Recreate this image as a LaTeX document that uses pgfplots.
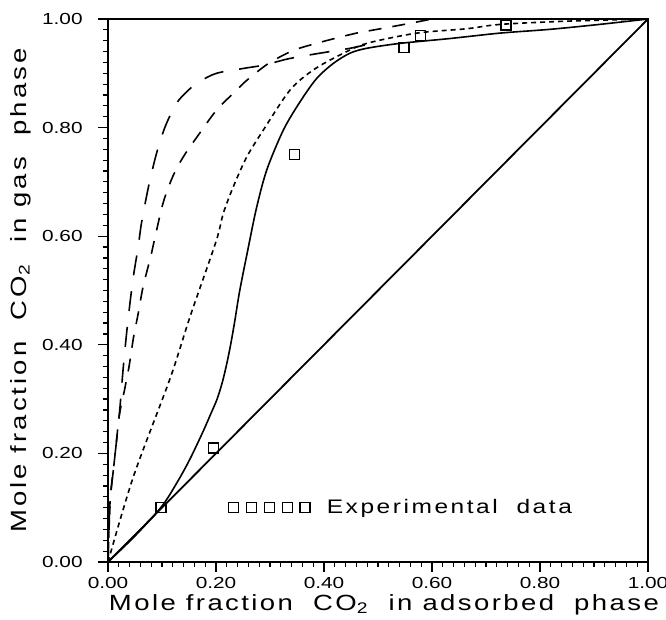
\documentclass[border=0pt]{standalone}
\usepackage{fontspec}
\setmainfont{Liberation Sans}
\newfontfamily\tickfont{Liberation Sans}[FakeStretch=1.3]
\newfontfamily\labfont{Liberation Sans}[FakeStretch=1.25,LetterSpace=11]
\newfontfamily\ylabfont{Liberation Sans}[FakeStretch=1.25,LetterSpace=14]
\newfontfamily\legfont{Liberation Sans}[FakeStretch=1.25,LetterSpace=13]
\usepackage{pgfplots}
\pgfplotsset{compat=1.18}
\begin{document}
\begin{tikzpicture}
\useasboundingbox (-54pt,-29pt) rectangle (279pt,281pt);
\begin{axis}[
  at={(0,0)}, anchor=south west,
  scale only axis, width=270pt, height=271.5pt,
  xmin=0, xmax=1, ymin=0, ymax=1,
  xtick={0,0.2,0.4,0.6,0.8,1}, ytick={0,0.2,0.4,0.6,0.8,1},
  xticklabels={0.00,0.20,0.40,0.60,0.80,1.00},
  yticklabels={0.00,0.20,0.40,0.60,0.80,1.00},
  minor tick num=9,
  tick align=outside, xtick pos=left, ytick pos=left,
  major tick length=5pt, minor tick length=2.5pt,
  tick style={black, line width=0.6pt},
  axis line style={line width=1pt},
  xticklabel style={font=\tickfont\fontsize{8}{9}\selectfont, anchor=north, inner sep=0pt, yshift=-2.5pt},
  yticklabel style={font=\tickfont\fontsize{8}{9}\selectfont, anchor=east, inner sep=0pt, xshift=-7.5pt},
  xlabel={Mole fraction~~CO\textsubscript{2}~~in~adsorbed~~phase},
  ylabel={Mole fraction~~CO\textsubscript{2}~~in~gas~~phase},
  xlabel style={font=\labfont\fontsize{11}{12}\selectfont, at={(axis description cs:0.511,0)}, anchor=north, inner sep=0pt, yshift=-16pt},
  ylabel style={font=\ylabfont\fontsize{11}{12}\selectfont, at={(axis description cs:-0.1815,0.5)}, anchor=north, inner sep=0pt},
  legend style={at={(axis cs:0.222,0.10)}, anchor=west, draw=none, fill=none, inner sep=0pt, font=\legfont\fontsize{9.8}{11}\selectfont},
  legend cell align=left,
  clip=false,
]
% diagonal
\addplot[black, line width=0.9pt, forget plot] coordinates {(0,0) (1,1)};
% solid model curve
\addplot[black, line width=0.8pt, smooth, tension=0.5, forget plot] coordinates {
(0,0) (0.05,0.048) (0.1,0.103) (0.13,0.15) (0.152,0.19) (0.175,0.238) (0.19,0.272) (0.202,0.30) (0.212,0.332) (0.221,0.37) (0.228,0.405) (0.235,0.445) (0.244,0.50) (0.26,0.58) (0.275,0.652) (0.294,0.722) (0.325,0.796) (0.356,0.848) (0.386,0.89) (0.417,0.918) (0.448,0.937) (0.479,0.946) (0.54,0.955) (0.633,0.964) (0.726,0.974) (0.819,0.981) (0.91,0.99) (1,1)};
% dotted curve
\addplot[black, line width=0.8pt, dash pattern=on 2.5pt off 2pt, smooth, tension=0.5, forget plot] coordinates {
(0,0) (0.047,0.157) (0.115,0.338) (0.152,0.452) (0.2,0.59) (0.2135,0.642) (0.232,0.691) (0.257,0.746) (0.288,0.796) (0.337,0.869) (0.38,0.906) (0.43,0.934) (0.479,0.955) (0.572,0.974) (0.664,0.982) (0.726,0.99) (0.85,0.996) (1,1)};
% long dashed curve
\addplot[black, line width=0.8pt, dash pattern=on 10pt off 8pt, smooth, tension=0.5, forget plot] coordinates {
(0,0) (0.002,0.06) (0.004,0.114) (0.012,0.188) (0.021,0.272) (0.028,0.355) (0.036,0.436) (0.046,0.519) (0.056,0.581) (0.062,0.624) (0.075,0.691) (0.09,0.753) (0.106,0.802) (0.127,0.845) (0.15,0.87) (0.17,0.885) (0.201,0.9) (0.251,0.909) (0.288,0.915) (0.331,0.926) (0.362,0.932) (0.411,0.94) (0.448,0.946) (0.48,0.953)};
% medium dashed curve
\addplot[black, line width=0.8pt, dash pattern=on 6.5pt off 5.5pt, smooth, tension=0.5, forget plot] coordinates {
(0,0) (0.004,0.114) (0.012,0.188) (0.021,0.27) (0.03,0.314) (0.039,0.36) (0.047,0.412) (0.056,0.458) (0.065,0.507) (0.079,0.562) (0.086,0.593) (0.102,0.661) (0.12,0.71) (0.14,0.747) (0.17,0.79) (0.201,0.832) (0.238,0.869) (0.257,0.887) (0.297,0.918) (0.343,0.942) (0.389,0.956) (0.439,0.969) (0.46,0.974) (0.51,0.983) (0.559,0.992) (0.6,1.0)};
% experimental data
\addplot[black, only marks, mark=square, mark size=2.5pt, mark options={line width=0.6pt, solid},
  legend image code/.code={
    \foreach \i in {0,...,4} {\draw[black, solid, line width=0.6pt] (\i*8.9pt,-2.5pt) rectangle ++(5pt,5pt);}
    \path[draw=none] (0,0) -- (47pt,0);
  }] coordinates {
(0.098,0.101) (0.196,0.21) (0.346,0.75) (0.548,0.948) (0.578,0.969) (0.737,0.989)};
\addlegendentry{Experimental~~data}
\end{axis}
\end{tikzpicture}
\end{document}
